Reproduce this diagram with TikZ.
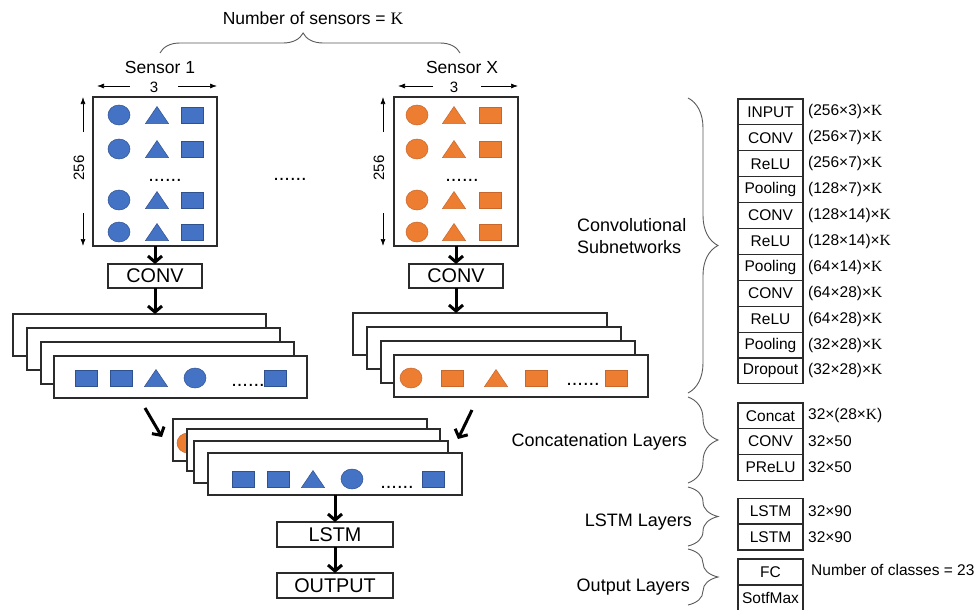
\documentclass[tikz,border=0pt]{standalone}
\usepackage{fontspec}
\setmainfont{Liberation Sans}
\newfontfamily\kfont{Liberation Serif}
\usetikzlibrary{arrows.meta,decorations.pathreplacing,calc}
\definecolor{bF}{HTML}{4472C4}
\definecolor{bD}{HTML}{2F528F}
\definecolor{oF}{HTML}{ED7D31}
\definecolor{oD}{HTML}{C8662C}
\definecolor{ln}{HTML}{2B2B2B}
\newcommand\KK{{\kfont K}}
\newcommand\fbig{\fontsize{17.5}{22}\selectfont}
\newcommand\fboxt{\fontsize{19.8}{23}\selectfont}
\newcommand\ftab{\fontsize{15.5}{18}\selectfont}
\newcommand\fsmall{\fontsize{15}{18}\selectfont}
\newcommand\fdots{\fontsize{20}{24}\selectfont}
\newcommand\ShC[3]{\filldraw[#1] (#2,#3) ellipse [x radius=11pt, y radius=10pt];}
\newcommand\ShT[3]{\filldraw[#1] (#2-11.5,#3+8.5) -- (#2+11.5,#3+8.5) -- (#2,#3-8.5) -- cycle;}
\newcommand\ShS[3]{\filldraw[#1] (#2-11,#3-8) rectangle (#2+11,#3+8);}
\begin{document}
\begin{tikzpicture}[x=1pt,y=-1pt,
  blu/.style={fill=bF,draw=bD,line width=0.5pt},
  org/.style={fill=oF,draw=oD,line width=0.5pt},
  sbox/.style={draw=ln,line width=1.5pt,fill=white,inner sep=0pt,outer sep=0pt,minimum width=124pt,minimum height=149pt},
  lbox/.style={draw=ln,line width=1.5pt,fill=white,inner sep=0pt,outer sep=0pt,minimum width=94pt,minimum height=24pt,font=\fboxt},
  layer/.style={draw=ln,line width=1.5pt,fill=white,inner sep=0pt,outer sep=0pt,minimum width=253pt,minimum height=42pt,anchor=north west},
  cell/.style={draw=ln,line width=1.1pt,inner sep=0pt,outer sep=0pt,minimum width=65pt,minimum height=25.9pt,font=\ftab},
  dimt/.style={anchor=west,inner sep=0pt,font=\ftab},
  lab/.style={inner sep=0pt,font=\fontsize{18}{22}\selectfont},
  dotsn/.style={inner sep=0pt,anchor=base,font=\fdots},
  thk/.style={-{Straight Barb[length=6pt,width=14pt]},line width=3pt},
  dimar/.style={-{Latex[length=7pt,width=5pt]},line width=0.7pt},
  brc/.style={decorate,decoration={brace,amplitude=30pt},draw=black!65,line width=0.9pt}]
\useasboundingbox (0,0) rectangle (980,610);
\clip (0,0) rectangle (980,610);

% top label and brace
\node[inner sep=0pt,font=\fbig] (title) at (313,18) {Number of sensors = \KK};
\coordinate (tb1) at (160,53);
\coordinate (tb2) at (460,53);
\draw[decorate,decoration={brace,amplitude=20pt,aspect=0.477},draw=black!65,line width=0.9pt] (tb1) -- (tb2);
\node[inner sep=0pt,font=\fbig] (s1lab) at (160,67) {Sensor 1};
\node[inner sep=0pt,font=\fbig] (sxlab) at (462,67) {Sensor X};

% sensor boxes
\node[sbox] (b1) at (155,171.5) {};
\node[sbox] (bx) at (456,171.5) {};

% dimension labels
\node[inner sep=0pt,font=\fsmall] (w1) at (154,87) {3};
\node[inner sep=0pt,font=\fsmall] (wx) at (454,87) {3};
\coordinate (w1a) at (130,86); \coordinate (w1b) at (97,86);
\coordinate (w1c) at (178,86); \coordinate (w1d) at (217,86);
\draw[dimar] (w1a) -- (w1b); \draw[dimar] (w1c) -- (w1d);
\coordinate (wxa) at (433,86); \coordinate (wxb) at (398,86);
\coordinate (wxc) at (481,86); \coordinate (wxd) at (518,86);
\draw[dimar] (wxa) -- (wxb); \draw[dimar] (wxc) -- (wxd);
\node[inner sep=0pt,font=\fsmall,rotate=90] (h1) at (79,168) {256};
\node[inner sep=0pt,font=\fsmall,rotate=90] (hx) at (379,168) {256};
\coordinate (h1a) at (83,132); \coordinate (h1b) at (83,97);
\coordinate (h1c) at (83,213); \coordinate (h1d) at (83,246);
\draw[dimar] (h1a) -- (h1b); \draw[dimar] (h1c) -- (h1d);
\coordinate (hxa) at (383,132); \coordinate (hxb) at (383,97);
\coordinate (hxc) at (383,213); \coordinate (hxd) at (383,246);
\draw[dimar] (hxa) -- (hxb); \draw[dimar] (hxc) -- (hxd);

% shapes in sensor boxes
\foreach \yy in {115,149,200,232}{
  \ShC{blu}{119}{\yy} \ShT{blu}{157}{\yy} \ShS{blu}{192}{\yy}
  \ShC{org}{417}{\yy} \ShT{org}{454}{\yy} \ShS{org}{490}{\yy}
}
\node[dotsn] (d1) at (165,181) {......};
\node[dotsn] (dx) at (462,181) {......};
\node[dotsn] (dm) at (290,180) {......};

% conv boxes
\node[lbox] (c1) at (155,276) {CONV};
\node[lbox] (cx) at (456,276) {CONV};
\draw[thk] (b1.south) -- (c1.north);
\draw[thk] (bx.south -| cx.north) -- (cx.north);

% left stack
\node[layer] (l1) at (13,314) {};
\node[layer] (l2) at (27,328) {};
\node[layer] (l3) at (41,342) {};
\node[layer] (l4) at (54,356) {};
\draw[thk] (c1.south) -- (c1.south |- l1.north);
\ShS{blu}{86}{378} \ShS{blu}{121}{378} \ShT{blu}{156}{378} \ShC{blu}{195}{378} \ShS{blu}{275}{378}
\node[dotsn] (dl) at (248,386) {......};

% right stack
\node[layer,minimum width=254pt] (r1) at (353,313) {};
\node[layer,minimum width=254pt] (r2) at (367,327) {};
\node[layer,minimum width=254pt] (r3) at (381,341) {};
\node[layer,minimum width=254pt] (r4) at (394,355) {};
\draw[thk] (cx.south) -- (cx.south |- r1.north);
\ShC{org}{411}{378} \ShS{org}{452}{378} \ShT{org}{496}{378} \ShS{org}{536}{378} \ShS{org}{616}{378}
\node[dotsn] (dr) at (583,385) {......};

% concat stack
\node[layer,minimum width=254pt] (k1) at (173,419) {};
\ShC{org}{188}{443}
\node[layer] (k2) at (187,429) {};
\node[layer,minimum width=254pt] (k3) at (194,441) {};
\node[layer,minimum width=254pt] (k4) at (208,453) {};
\ShS{blu}{243}{479} \ShS{blu}{278}{479} \ShT{blu}{313}{479} \ShC{blu}{352}{479} \ShS{blu}{433}{479}
\node[dotsn] (dk) at (397,488) {......};

\coordinate (ga) at (145,408); \coordinate (gb) at (162,437);
\coordinate (gc) at (472,410); \coordinate (gd) at (458,439);
\draw[thk] (ga) -- (gb);
\draw[thk] (gc) -- (gd);

% LSTM / OUTPUT
\node[lbox,minimum width=116pt,minimum height=25pt] (lstm) at (335,534.5) {LSTM};
\node[lbox,minimum width=116pt,minimum height=25pt] (outp) at (335,585.5) {OUTPUT};
\draw[thk] (k4.south -| lstm.north) -- (lstm.north);
\draw[thk] (lstm.south) -- (outp.north);

% right tables
\foreach \t/\d [count=\i] in {{INPUT}/{(256×3)×\KK},{CONV}/{(256×7)×\KK},{ReLU}/{(256×7)×\KK},{Pooling}/{(128×7)×\KK},{CONV}/{(128×14)×\KK},{ReLU}/{(128×14)×\KK},{Pooling}/{(64×14)×\KK},{CONV}/{(64×28)×\KK},{ReLU}/{(64×28)×\KK},{Pooling}/{(32×28)×\KK},{Dropout}/{(32×28)×\KK}}{
  \node[cell] (ta\i) at (770.5,{99+25.9*(\i-0.5)}) {\t};
  \node[dimt] (da\i) at (808,{99+25.9*(\i-0.5)}) {\d};
}
\foreach \t/\d [count=\i] in {{Concat}/{32×(28×\KK)},{CONV}/{32×50},{PReLU}/{32×50}}{
  \node[cell,minimum height=25.7pt] (tb\i) at (770.5,{403+25.7*(\i-0.5)}) {\t};
  \node[dimt] (db\i) at (808,{403+25.7*(\i-0.5)}) {\d};
}
\foreach \t/\d [count=\i] in {{LSTM}/{32×90},{LSTM}/{32×90}}{
  \node[cell] (tc\i) at (770.5,{498+26*(\i-0.5)}) {\t};
  \node[dimt] (dc\i) at (808,{498+26*(\i-0.5)}) {\d};
}
\node[cell,minimum height=26pt] (td1) at (770.5,572) {FC};
\node[cell,minimum height=26pt] (td2) at (770.5,598) {SotfMax};
\node[dimt] (dd1) at (811,570) {Number of classes = 23};

% braces and labels
\coordinate (ba1) at (688,98); \coordinate (ba2) at (688,393);
\coordinate (bb1) at (688,397); \coordinate (bb2) at (688,483);
\coordinate (bc1) at (688,487); \coordinate (bc2) at (688,546);
\coordinate (bd1) at (688,549); \coordinate (bd2) at (688,605);
\draw[brc] (ba1) -- (ba2);
\draw[brc] (bb1) -- (bb2);
\draw[brc] (bc1) -- (bc2);
\draw[brc] (bd1) -- (bd2);
\node[lab,anchor=west,align=left] (lconv) at (577,236) {Convolutional\\Subnetworks};
\node[lab,anchor=east] (lcat) at (687,442) {Concatenation Layers};
\node[lab,anchor=east] (llstm) at (692,522) {LSTM Layers};
\node[lab,anchor=east] (lout) at (690,587) {Output Layers};
\end{tikzpicture}
\end{document}
